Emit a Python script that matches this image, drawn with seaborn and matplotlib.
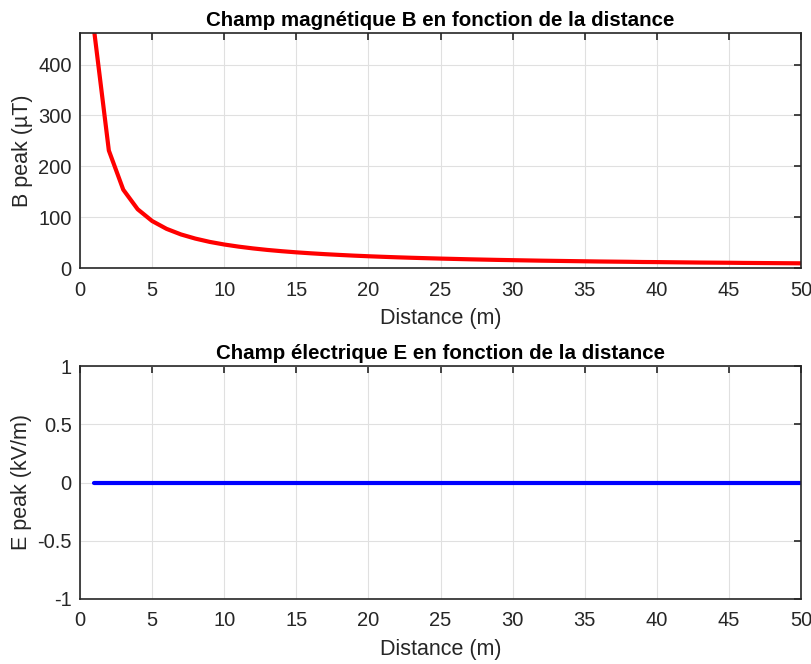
import matplotlib
matplotlib.use("Agg")
import matplotlib.pyplot as plt
import seaborn as sns
import pandas as pd

distance_m = list(range(1, 51))
b_peak_uT = [462, 231, 154, 115.5, 92.4, 77, 66, 57.8, 51.3, 46.2,
             42, 38.5, 35.5, 33, 30.8, 28.9, 27.2, 25.7, 24.3, 23.1,
             22, 21, 20.1, 19.3, 18.5, 17.8, 17.1, 16.5, 15.9, 15.4,
             14.9, 14.4, 14, 13.6, 13.2, 12.8, 12.5, 12.2, 11.8, 11.6,
             11.3, 11, 10.7, 10.5, 10.3, 10, 9.8, 9.6, 9.4, 9.2]
e_peak_kVm = [0.0] * 50

title_b = "Champ magnétique B en fonction de la distance"
title_e = "Champ électrique E en fonction de la distance"
xlabel = "Distance (m)"
ylabel_b = "B peak (µT)"
ylabel_e = "E peak (kV/m)"

sns.set_theme(style="white")
plt.rcParams["font.family"] = ["Liberation Sans", "DejaVu Sans"]
plt.rcParams["axes.unicode_minus"] = False

df = pd.DataFrame({"d": distance_m, "B": b_peak_uT, "E": e_peak_kVm})

fig = plt.figure(figsize=(8.11, 6.64), dpi=100)
ax1 = fig.add_axes([80/811, 1-268/664, (801-80)/811, (268-33)/664])
ax2 = fig.add_axes([80/811, 1-599/664, (801-80)/811, (599-366)/664])

sns.lineplot(data=df, x="d", y="B", ax=ax1, color="#ff0000", linewidth=3)
sns.lineplot(data=df, x="d", y="E", ax=ax2, color="#0000ff", linewidth=3)

dark = "#262626"
for ax, ttl, yl in [(ax1, title_b, ylabel_b), (ax2, title_e, ylabel_e)]:
    ax.set_xlim(0, 50)
    ax.set_xticks(range(0, 51, 5))
    ax.grid(True, color="#e0e0e0", linewidth=0.8)
    ax.set_axisbelow(True)
    for s in ax.spines.values():
        s.set_color(dark)
        s.set_linewidth(1.2)
    ax.tick_params(direction="in", length=5, width=1.2, top=True, right=True,
                   labelsize=14.5, colors=dark)
    ax.tick_params(axis="x", pad=9)
    ax.tick_params(axis="y", pad=6)
    ax.set_title(ttl, fontsize=14.8, fontweight="bold", color="black", pad=5)
    ax.set_xlabel(xlabel, fontsize=15.5, color=dark, labelpad=6)
    ax.set_ylabel(yl, fontsize=15.5, color=dark, labelpad=4)

ax1.set_ylim(0, 462)
ax1.set_yticks([0, 100, 200, 300, 400])
ax2.set_ylim(-1, 1)
ax2.set_yticks([-1, -0.5, 0, 0.5, 1])
ax2.set_yticklabels(["-1", "-0.5", "0", "0.5", "1"])

fig.savefig("out.png", dpi=100)
